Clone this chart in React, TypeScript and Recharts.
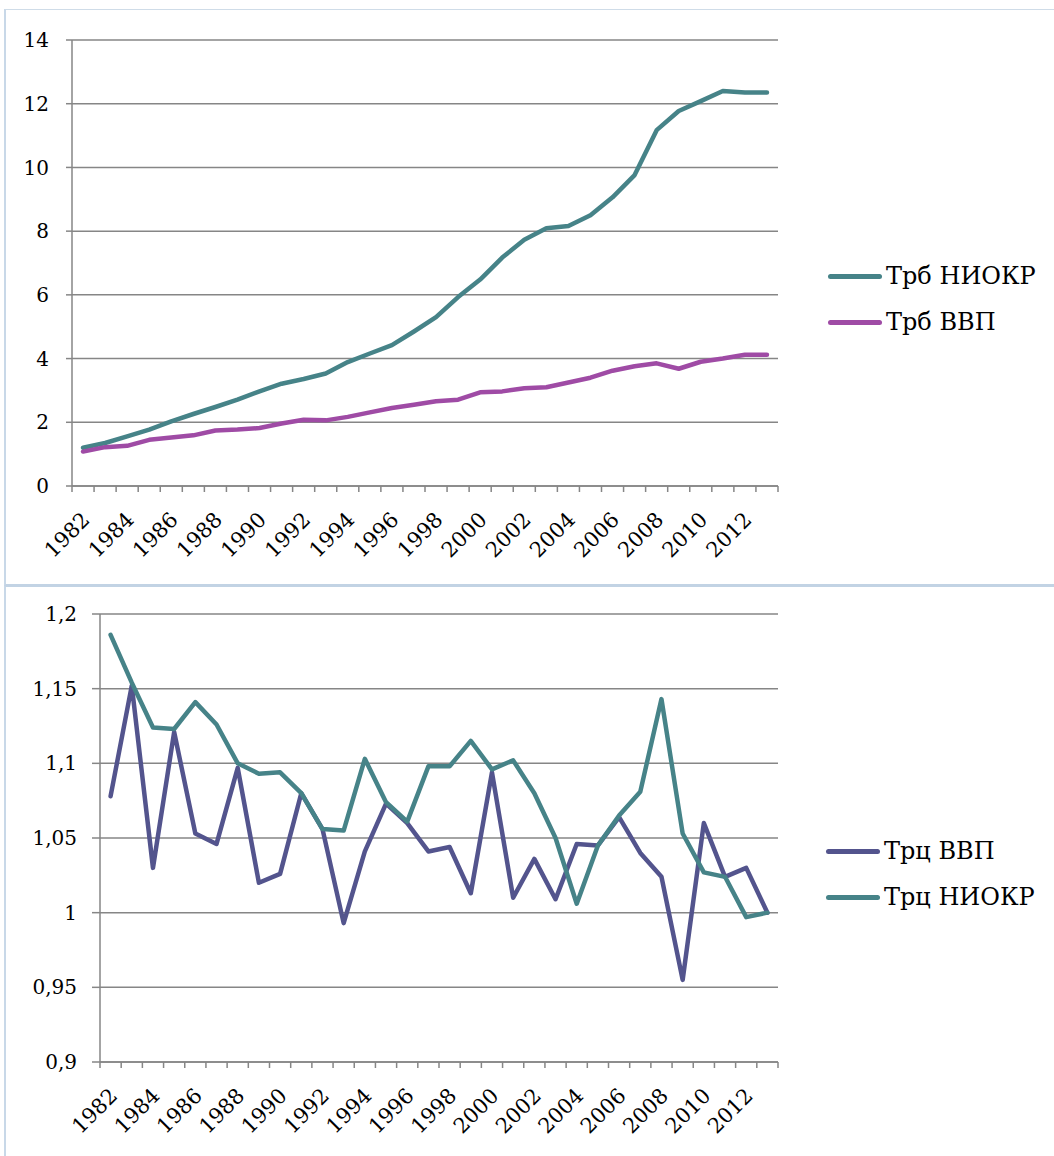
import React from "react";
import { LineChart, Line, XAxis, YAxis, CartesianGrid, Legend } from "recharts";

const years = [
  1982, 1983, 1984, 1985, 1986, 1987, 1988, 1989, 1990, 1991, 1992, 1993, 1994, 1995, 1996, 1997,
  1998, 1999, 2000, 2001, 2002, 2003, 2004, 2005, 2006, 2007, 2008, 2009, 2010, 2011, 2012, 2013,
];

const trbNiokr = [
  1.2, 1.35, 1.56, 1.77, 2.03, 2.26, 2.48, 2.71, 2.97, 3.21, 3.36, 3.53, 3.89, 4.16, 4.42, 4.85,
  5.3, 5.93, 6.48, 7.17, 7.73, 8.09, 8.16, 8.5, 9.06, 9.76, 11.17, 11.77, 12.08, 12.4, 12.35, 12.35,
];
const trbVvp = [
  1.08, 1.22, 1.26, 1.45, 1.52, 1.59, 1.74, 1.77, 1.82, 1.96, 2.08, 2.06, 2.17, 2.31, 2.45, 2.55,
  2.66, 2.71, 2.94, 2.97, 3.07, 3.1, 3.25, 3.4, 3.62, 3.76, 3.85, 3.68, 3.9, 4.0, 4.12, 4.12,
];

const trcVvp = [
  1.078, 1.152, 1.03, 1.121, 1.053, 1.046, 1.097, 1.02, 1.026, 1.08, 1.056, 0.993, 1.041, 1.073, 1.06, 1.041,
  1.044, 1.013, 1.094, 1.01, 1.036, 1.009, 1.046, 1.045, 1.064, 1.04, 1.024, 0.955, 1.06, 1.024, 1.03, 1.0,
];
const trcNiokr = [
  1.186, 1.154, 1.124, 1.123, 1.141, 1.126, 1.1, 1.093, 1.094, 1.08, 1.056, 1.055, 1.103, 1.074, 1.061, 1.098,
  1.098, 1.115, 1.096, 1.102, 1.08, 1.05, 1.006, 1.045, 1.065, 1.081, 1.143, 1.053, 1.027, 1.024, 0.997, 1.0,
];

// tick labels on the x axis (every other year)
const yearLabels = [1982, 1984, 1986, 1988, 1990, 1992, 1994, 1996, 1998, 2000, 2002, 2004, 2006, 2008, 2010, 2012];
const topTicks = [0, 2, 4, 6, 8, 10, 12, 14];
const bottomTicks = [0.9, 0.95, 1, 1.05, 1.1, 1.15, 1.2];

const TEAL = "#468388";
const MAGENTA = "#9f4ba5";
const INDIGO = "#53548d";
const GRID = "#868686";
const FONT = "DejaVu Serif";

const topData = years.map((y, i) => ({ year: y, niokr: trbNiokr[i], vvp: trbVvp[i] }));
const bottomData = years.map((y, i) => ({ year: y, vvp: trcVvp[i], niokr: trcNiokr[i] }));

// boundary marks between years + the labelled years
const xTicks = [...years.map((y) => y - 0.5), years[years.length - 1] + 0.5, ...yearLabels];

function YearTick(props: any) {
  const { x, y, payload } = props;
  const v = payload.value;
  if (!Number.isInteger(v)) {
    return <line x1={x} y1={y} x2={x} y2={y + 6} stroke={GRID} strokeWidth={1.5} />;
  }
  const ax = x + 8;
  const ay = y + 35;
  return (
    <text x={ax} y={ay} transform={`rotate(-45 ${ax} ${ay})`} textAnchor="end" fontSize={21} fontFamily={FONT} fill="#000">
      {v}
    </text>
  );
}

function LegendBox(props: any) {
  const { payload, gap, order } = props;
  const items = order.map((name: string) => payload.find((p: any) => p.value === name)).filter(Boolean);
  return (
    <div style={{ fontFamily: FONT, fontSize: 24, color: "#000" }}>
      {items.map((p: any) => (
        <div key={p.value} style={{ display: "flex", alignItems: "center", height: gap }}>
          <span style={{ display: "inline-block", width: 54, height: 5, borderRadius: 3, background: p.color, marginRight: 4 }} />
          <span>{p.value}</span>
        </div>
      ))}
    </div>
  );
}

const fmtComma = (v: number) => String(+v.toFixed(2)).replace(".", ",");
const yTickStyle = { fill: "#000", fontSize: 20, fontFamily: FONT };

export default function App() {
  return (
    <div style={{ position: "absolute", left: 0, top: 0, width: 1054, height: 1156, background: "#fff", overflow: "hidden" }}>
      <div style={{ position: "absolute", left: 4, top: 9, width: 1070, height: 574, borderTop: "1.5px solid #cfdce8", borderLeft: "2px solid #c8d8e8", borderBottom: "2px solid #c2d3e4" }} />
      <div style={{ position: "absolute", left: 4, top: 585, width: 1070, height: 600, borderTop: "2px solid #c2d3e4", borderLeft: "2px solid #c8d8e8" }} />

      <div style={{ position: "absolute", left: 0, top: 0 }}>
        <LineChart width={1054} height={585} data={topData} margin={{ top: 40, right: 276, bottom: 0, left: 0 }}>
          <CartesianGrid vertical={false} stroke={GRID} strokeWidth={1.5} />
          <XAxis
            dataKey="year"
            type="number"
            domain={[1981.5, 2013.5]}
            ticks={xTicks}
            interval={0}
            tick={<YearTick />}
            tickLine={false}
            tickSize={0}
            tickMargin={0}
            height={99}
            axisLine={{ stroke: GRID, strokeWidth: 1.5 }}
          />
          <YAxis
            domain={[0, 14]}
            ticks={topTicks}
            width={72}
            tickSize={6}
            tickMargin={17}
            tick={yTickStyle}
            tickLine={{ stroke: GRID, strokeWidth: 1.5 }}
            axisLine={{ stroke: GRID, strokeWidth: 1.5 }}
          />
          <Legend
            layout="horizontal"
            align="center"
            verticalAlign="middle"
            wrapperStyle={{ left: 828, top: 253, width: 226 }}
            content={<LegendBox gap={46} order={["Трб НИОКР", "Трб ВВП"]} />}
          />
          <Line name="Трб НИОКР" dataKey="niokr" stroke={TEAL} strokeWidth={4.5} dot={false} strokeLinecap="round" strokeLinejoin="round" isAnimationActive={false} />
          <Line name="Трб ВВП" dataKey="vvp" stroke={MAGENTA} strokeWidth={4.5} dot={false} strokeLinecap="round" strokeLinejoin="round" isAnimationActive={false} />
        </LineChart>
      </div>

      <div style={{ position: "absolute", left: 0, top: 587 }}>
        <LineChart width={1054} height={569} data={bottomData} margin={{ top: 27, right: 276, bottom: 0, left: 0 }}>
          <CartesianGrid vertical={false} stroke={GRID} strokeWidth={1.5} />
          <XAxis
            dataKey="year"
            type="number"
            domain={[1981.5, 2013.5]}
            ticks={xTicks}
            interval={0}
            tick={<YearTick />}
            tickLine={false}
            tickSize={0}
            tickMargin={0}
            height={94}
            axisLine={{ stroke: GRID, strokeWidth: 1.5 }}
          />
          <YAxis
            domain={[0.9, 1.2]}
            ticks={bottomTicks}
            width={100}
            tickSize={8}
            tickMargin={15}
            tickFormatter={fmtComma}
            tick={yTickStyle}
            tickLine={{ stroke: GRID, strokeWidth: 1.5 }}
            axisLine={{ stroke: GRID, strokeWidth: 1.5 }}
          />
          <Legend
            layout="horizontal"
            align="center"
            verticalAlign="middle"
            wrapperStyle={{ left: 826, top: 241, width: 228 }}
            content={<LegendBox gap={46} order={["Трц ВВП", "Трц НИОКР"]} />}
          />
          <Line name="Трц ВВП" dataKey="vvp" stroke={INDIGO} strokeWidth={4.5} dot={false} strokeLinecap="round" strokeLinejoin="round" isAnimationActive={false} />
          <Line name="Трц НИОКР" dataKey="niokr" stroke={TEAL} strokeWidth={4.5} dot={false} strokeLinecap="round" strokeLinejoin="round" isAnimationActive={false} />
        </LineChart>
      </div>
    </div>
  );
}
